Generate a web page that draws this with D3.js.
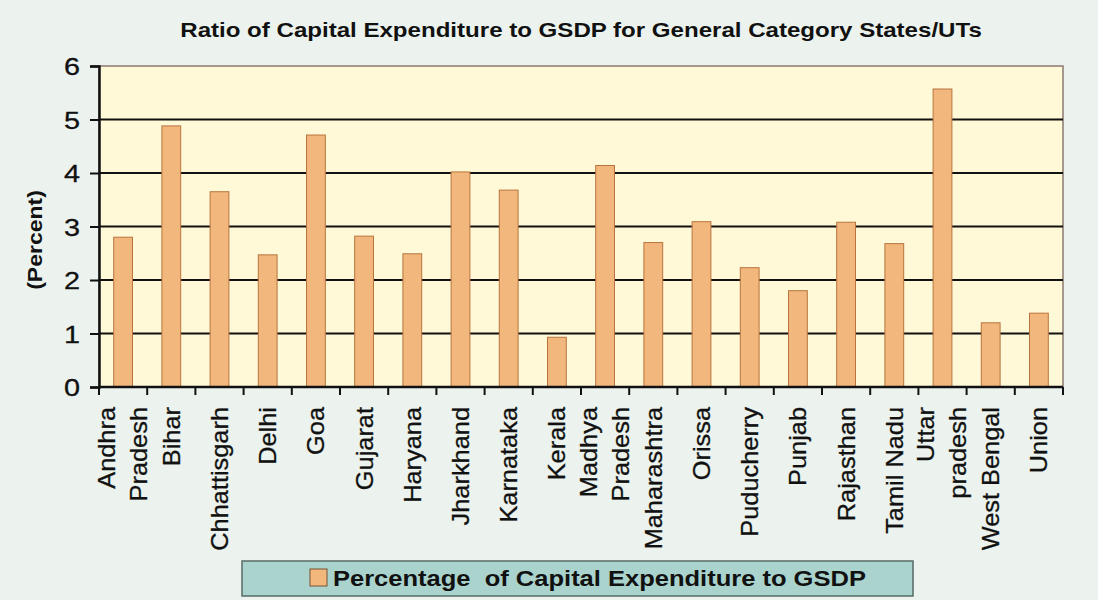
<!DOCTYPE html>
<html>
<head>
<meta charset="utf-8">
<script src="https://cdn.jsdelivr.net/npm/d3@7"></script>
<style>
  body { margin: 0; background: #ecf3ee; }
  svg { display: block; font-family: "Liberation Sans", Arial, Helvetica, sans-serif; }
</style>
</head>
<body>
<div id="chart"></div>
<script>
// chart data
var states = ["Andhra\nPradesh", "Bihar", "Chhattisgarh", "Delhi", "Goa", "Gujarat", "Haryana",
    "Jharkhand", "Karnataka", "Kerala", "Madhya\nPradesh", "Maharashtra", "Orissa", "Puducherry",
    "Punjab", "Rajasthan", "Tamil Nadu", "Uttar\npradesh", "West Bengal", "Union"];
var capexRatio = [2.80, 4.88, 3.65, 2.47, 4.71, 2.82, 2.49, 4.02, 3.68, 0.93, 4.14, 2.70, 3.09,
    2.23, 1.80, 3.08, 2.68, 5.57, 1.20, 1.38];
var yTicks = [0, 1, 2, 3, 4, 5, 6];
var titleText = "Ratio of Capital Expenditure to GSDP for General Category States/UTs";
var yLabel = "(Percent)";
var legendText = "Percentage  of Capital Expenditure to GSDP";

var W = 1098, H = 600;
var margin = { top: 66, right: 35, bottom: 213, left: 99 },
    width = W - margin.left - margin.right,
    height = H - margin.top - margin.bottom;

var svg = d3.select("#chart").append("svg").attr("width", W).attr("height", H);

svg.append("rect").attr("width", W).attr("height", H).attr("fill", "#ecf3ee");

var x = d3.scaleBand().domain(states).range([0, width]).paddingInner(0.61).paddingOuter(0.305);
var y = d3.scaleLinear().domain([0, 6]).range([height, 0]);

var g = svg.append("g").attr("transform", "translate(" + margin.left + "," + margin.top + ")");

// plot background
g.append("rect")
    .attr("width", width).attr("height", height)
    .attr("fill", "#fff9d8")
    .attr("stroke", "#8a7a70").attr("stroke-width", 1.5);

// grid lines
g.selectAll(".grid")
    .data(yTicks.filter(function(d) { return d > 0 && d < 6; }))
    .enter().append("line")
    .attr("x1", 0).attr("x2", width)
    .attr("y1", function(d) { return y(d); })
    .attr("y2", function(d) { return y(d); })
    .attr("stroke", "#111").attr("stroke-width", 2);

// bars
g.selectAll(".bar")
    .data(capexRatio)
    .enter().append("rect")
    .attr("class", "bar")
    .attr("x", function(d, i) { return x(states[i]); })
    .attr("width", x.bandwidth())
    .attr("y", function(d) { return y(d); })
    .attr("height", function(d) { return height - y(d); })
    .attr("fill", "#f2b77c")
    .attr("stroke", "#b9743e").attr("stroke-width", 1);

// y axis
var yAxis = d3.axisLeft(y).tickValues(yTicks).tickFormat(d3.format("d")).tickSize(9).tickPadding(10);
var ya = g.append("g").call(yAxis);
ya.select(".domain").attr("stroke", "#111").attr("stroke-width", 2.5);
ya.selectAll(".tick line").attr("stroke", "#111").attr("stroke-width", 2);
ya.selectAll(".tick text")
    .attr("font-size", 24).attr("fill", "#111")
    .attr("stroke", "#111").attr("stroke-width", 0.3)
    .attr("dy", "0.36em")
    .attr("x", -19 / 1.2)
    .attr("transform", "scale(1.2,1)")
    .attr("font-family", "\"Liberation Sans\", Arial, sans-serif");

// x axis: ticks at band boundaries
var bounds = d3.range(states.length + 1).map(function(i) { return i * x.step(); });
g.append("line")
    .attr("x1", 0).attr("x2", width)
    .attr("y1", height).attr("y2", height)
    .attr("stroke", "#111").attr("stroke-width", 2.5);
g.selectAll(".xtick")
    .data(bounds)
    .enter().append("line")
    .attr("x1", function(d) { return d; }).attr("x2", function(d) { return d; })
    .attr("y1", height).attr("y2", height + 8)
    .attr("stroke", "#111").attr("stroke-width", 2);

// category labels, rotated
var labels = g.selectAll(".xlabel")
    .data(states)
    .enter().append("g")
    .attr("transform", function(d) {
        return "translate(" + (x(d) + x.bandwidth() / 2) + "," + (height + 20) + ") rotate(-90) scale(1.08,1)";
    });
labels.each(function(d) {
    var lines = d.split("\n");
    var t = d3.select(this).append("text")
        .attr("text-anchor", "end")
        .attr("font-size", 23.5).attr("fill", "#111")
        .attr("stroke", "#111").attr("stroke-width", 0.3);
    lines.forEach(function(line, k) {
        var off = lines.length === 1 ? 0 : (k === 0 ? -16.5 : 15.5);
        t.append("tspan").attr("x", 0).attr("y", off).attr("dy", "0.36em").text(line);
    });
});

// y label
svg.append("text")
    .attr("transform", "translate(35,240) rotate(-90) scale(1.15,1)")
    .attr("text-anchor", "middle")
    .attr("dy", "0.36em")
    .attr("font-size", 20)
    .attr("font-weight", "bold").attr("fill", "#111")
    .text(yLabel);

// title
svg.append("text")
    .attr("transform", "translate(581,37) scale(1.147,1)")
    .attr("text-anchor", "middle")
    .attr("font-size", 21)
    .attr("font-weight", "bold").attr("fill", "#111")
    .text(titleText);

// legend
var lg = svg.append("g").attr("transform", "translate(242,561)");
lg.append("rect")
    .attr("width", 671).attr("height", 35)
    .attr("fill", "#a9d3cc").attr("stroke", "#556b66").attr("stroke-width", 1.5);
lg.append("rect")
    .attr("x", 68).attr("y", 8).attr("width", 17).attr("height", 17)
    .attr("fill", "#f2b77c").attr("stroke", "#7a5030").attr("stroke-width", 1);
lg.append("text")
    .attr("transform", "translate(91,17) scale(1.16,1)")
    .attr("dy", "0.36em")
    .attr("font-size", 22)
    .attr("font-weight", "bold").attr("fill", "#111")
    .style("white-space", "pre")
    .text(legendText);
</script>
</body>
</html>
